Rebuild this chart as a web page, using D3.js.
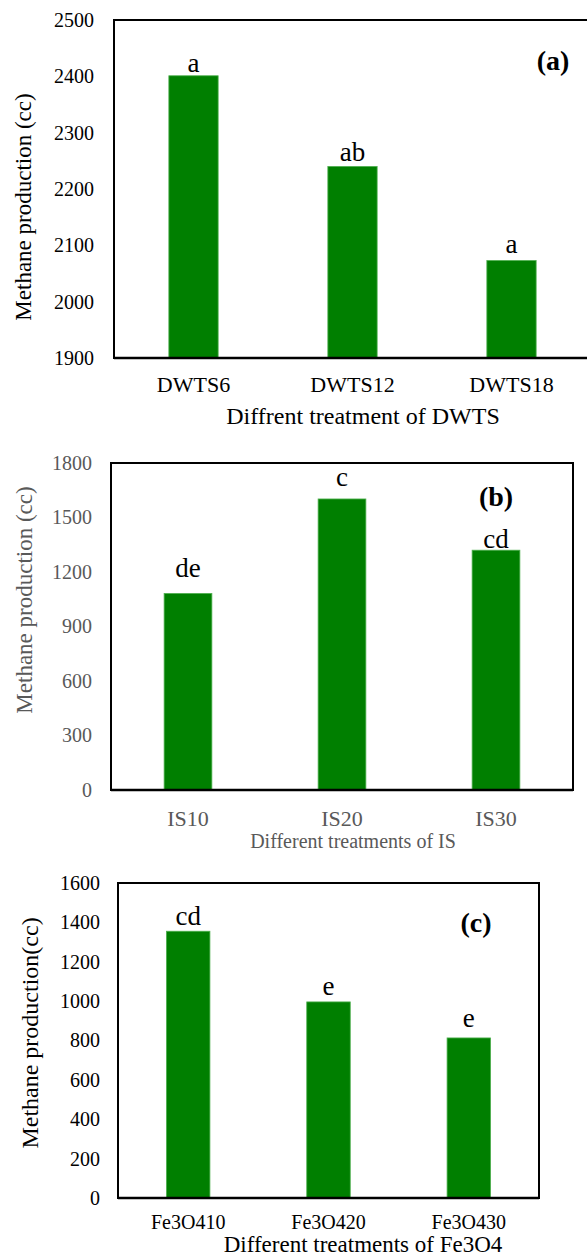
<!DOCTYPE html>
<html>
<head>
<meta charset="utf-8">
<script src="https://cdn.jsdelivr.net/npm/d3@7"></script>
<style>
  html, body { margin: 0; padding: 0; background: #fff; }
  svg { display: block; font-family: "Liberation Serif", "Times New Roman", serif; }
</style>
</head>
<body>
<svg id="chart" width="587" height="1257"></svg>
<script>
// ── Data ────────────────────────────────────────────────────────────────────
const catsA    = ["DWTS6", "DWTS12", "DWTS18"];
const valsA    = [2401, 2240, 2073];
const lettersA = ["a", "ab", "a"];
const ticksA   = [1900, 2000, 2100, 2200, 2300, 2400, 2500];

const catsB    = ["IS10", "IS20", "IS30"];
const valsB    = [1082, 1602, 1320];
const lettersB = ["de", "c", "cd"];
const ticksB   = [0, 300, 600, 900, 1200, 1500, 1800];

const catsC    = ["Fe3O410", "Fe3O420", "Fe3O430"];
const valsC    = [1355, 996, 813];
const lettersC = ["cd", "e", "e"];
const ticksC   = [0, 200, 400, 600, 800, 1000, 1200, 1400, 1600];

// ── Layout per panel ────────────────────────────────────────────────────────
const BAR_FILL   = "#007f00";
const BAR_STROKE = "#4fb04f";
const SERIF      = '"Liberation Serif", "Times New Roman", serif';

const panels = [
  {
    cats: catsA, vals: valsA, letters: lettersA, ticks: ticksA,
    left: 114, right: 591, top: 20, bottom: 358,
    tickPad: 20, tickFs: 20, catPad: 18, catFs: 22,
    axisColor: "#000",
    xTitle: "Diffrent treatment of DWTS", xTitleX: 363, xTitleY: 424, xTitleFs: 24,
    yTitle: "Methane production (cc)", yTitleX: 31, yTitleY: 207, yTitleFs: 23,
    tag: "(a)", tagX: 553, tagY: 70, tagFs: 28,
    letterFs: 27, letterLift: [4, 5, 8]
  },
  {
    cats: catsB, vals: valsB, letters: lettersB, ticks: ticksB,
    left: 111, right: 573, top: 463, bottom: 790,
    tickPad: 19, tickFs: 20, catPad: 20, catFs: 22,
    axisColor: "#595959",
    xTitle: "Different treatments of IS", xTitleX: 353, xTitleY: 848, xTitleFs: 20,
    yTitle: "Methane production (cc)", yTitleX: 32, yTitleY: 600, yTitleFs: 23,
    tag: "(b)", tagX: 496, tagY: 506, tagFs: 28,
    letterFs: 27, letterLift: [16, 13, 2]
  },
  {
    cats: catsC, vals: valsC, letters: lettersC, ticks: ticksC,
    left: 118, right: 539, top: 883, bottom: 1198,
    tickPad: 18, tickFs: 20, catPad: 17, catFs: 20,
    axisColor: "#000",
    xTitle: "Different treatments of Fe3O4", xTitleX: 363, xTitleY: 1252, xTitleFs: 23,
    yTitle: "Methane production(cc)", yTitleX: 38, yTitleY: 1033, yTitleFs: 24,
    tag: "(c)", tagX: 476, tagY: 932, tagFs: 28,
    letterFs: 27, letterLift: [6, 7, 11]
  }
];

const svg = d3.select("#chart");

panels.forEach(drawPanel);

function drawPanel(p) {
  const g = svg.append("g");

  const x = d3.scaleBand()
    .domain(p.cats)
    .range([p.left, p.right])
    .paddingInner(0.69)
    .paddingOuter(0.345);

  const y = d3.scaleLinear()
    .domain([p.ticks[0], p.ticks[p.ticks.length - 1]])
    .range([p.bottom, p.top]);

  // bars
  g.selectAll("rect.bar")
    .data(p.vals)
    .join("rect")
    .attr("class", "bar")
    .attr("x", (d, i) => x(p.cats[i]))
    .attr("width", x.bandwidth())
    .attr("y", d => y(d))
    .attr("height", d => y(p.ticks[0]) - y(d))
    .attr("fill", BAR_FILL)
    .attr("stroke", BAR_STROKE)
    .attr("stroke-width", 0.8);

  // significance letters
  g.selectAll("text.letter")
    .data(p.vals)
    .join("text")
    .attr("class", "letter")
    .attr("x", (d, i) => x(p.cats[i]) + x.bandwidth() / 2)
    .attr("y", (d, i) => y(d) - p.letterLift[i])
    .attr("text-anchor", "middle")
    .attr("font-size", p.letterFs)
    .attr("fill", "#000")
    .text((d, i) => p.letters[i]);

  // y axis
  const yAxis = g.append("g")
    .attr("transform", `translate(${p.left},0)`)
    .call(d3.axisLeft(y).tickValues(p.ticks).tickSize(0).tickPadding(p.tickPad).tickFormat(d3.format("d")))
    .attr("font-family", SERIF)
    .attr("font-size", p.tickFs);
  yAxis.select(".domain").remove();
  yAxis.selectAll(".tick text").attr("fill", p.axisColor);

  // x axis
  const xAxis = g.append("g")
    .attr("transform", `translate(0,${p.bottom})`)
    .call(d3.axisBottom(x).tickSize(0).tickPadding(p.catPad))
    .attr("font-family", SERIF)
    .attr("font-size", p.catFs);
  xAxis.select(".domain").remove();
  xAxis.selectAll(".tick text").attr("fill", p.axisColor);

  // frame
  g.append("rect")
    .attr("x", p.left)
    .attr("y", p.top)
    .attr("width", p.right - p.left)
    .attr("height", p.bottom - p.top)
    .attr("fill", "none")
    .attr("stroke", "#000")
    .attr("stroke-width", 2);
  g.append("line")
    .attr("x1", p.left).attr("x2", p.right)
    .attr("y1", p.bottom).attr("y2", p.bottom)
    .attr("stroke", "#000")
    .attr("stroke-width", 2.5);

  // axis titles
  g.append("text")
    .attr("x", p.xTitleX)
    .attr("y", p.xTitleY)
    .attr("text-anchor", "middle")
    .attr("font-size", p.xTitleFs)
    .attr("fill", p.axisColor)
    .text(p.xTitle);

  g.append("text")
    .attr("transform", `translate(${p.yTitleX},${p.yTitleY}) rotate(-90)`)
    .attr("text-anchor", "middle")
    .attr("font-size", p.yTitleFs)
    .attr("fill", p.axisColor)
    .text(p.yTitle);

  // panel tag
  g.append("text")
    .attr("x", p.tagX)
    .attr("y", p.tagY)
    .attr("text-anchor", "middle")
    .attr("font-size", p.tagFs)
    .attr("font-weight", "bold")
    .attr("fill", "#000")
    .text(p.tag);
}
</script>
</body>
</html>
